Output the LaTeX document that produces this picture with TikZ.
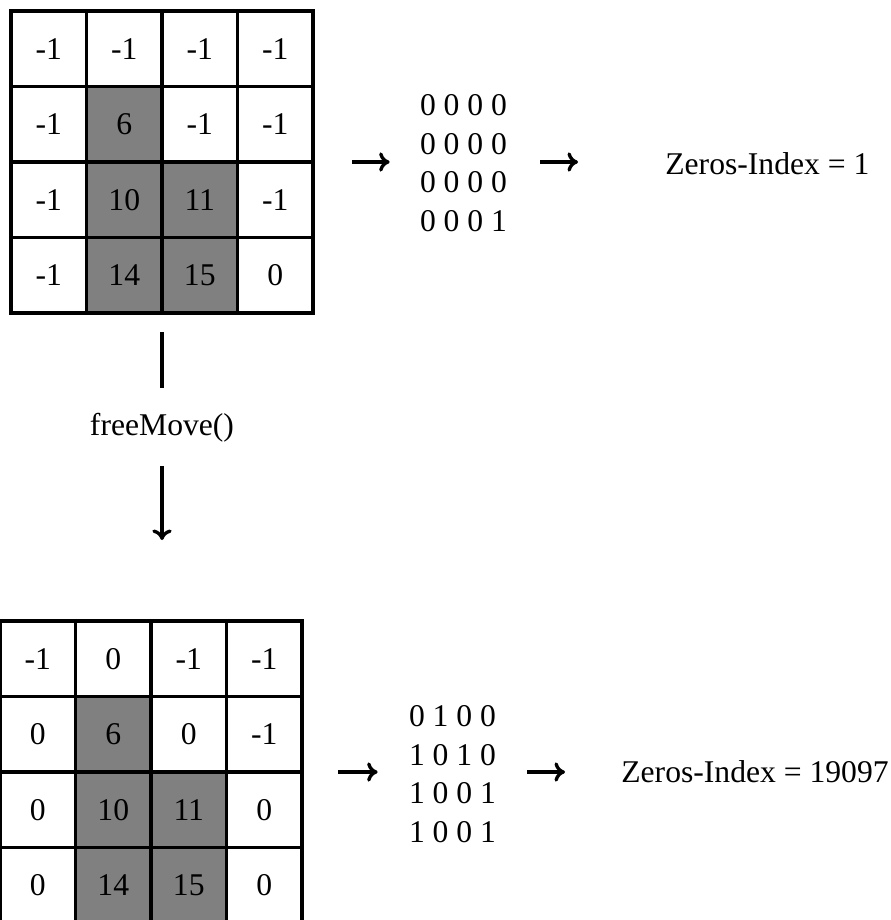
\documentclass[tikz,border=0pt]{standalone}
\usepackage{fontspec}
\setmainfont{Liberation Serif}
\usepackage{tikz}
\usetikzlibrary{arrows.meta, positioning}
\definecolor{cellgray}{RGB}{128, 128, 128}

\tikzset{
    every node/.style={font=\fontsize{18}{22}\selectfont},
    cell/.style={draw, line width=2pt, minimum size=1.51cm, inner sep=0pt, outer sep=0pt},
    bits/.style={align=center, inner sep=0pt},
    flow/.style={-{To[length=6pt, width=11pt]}, line width=1.9pt}
}

\begin{document}
\begin{tikzpicture}
    \useasboundingbox (0,0) rectangle (17.8,-18.4);
    % Grid before the move
    \foreach \v/\f [count=\i from 0] in {-1/white, -1/white, -1/white, -1/white,
            -1/white, 6/cellgray, -1/white, -1/white,
            -1/white, 10/cellgray, 11/cellgray, -1/white,
            -1/white, 14/cellgray, 15/cellgray, 0/white} {
        \pgfmathtruncatemacro{\r}{div(\i,4)+1}
        \pgfmathtruncatemacro{\c}{mod(\i,4)+1}
        \node[cell, fill=\f] (t-\r-\c)
            at ({0.975+1.51*(\c-1)}, {-0.975-1.51*(\r-1)}) {\v};
    }
    % Grid after the move
    \foreach \v/\f [count=\i from 0] in {-1/white, 0/white, -1/white, -1/white,
            0/white, 6/cellgray, 0/white, -1/white,
            0/white, 10/cellgray, 11/cellgray, 0/white,
            0/white, 14/cellgray, 15/cellgray, 0/white} {
        \pgfmathtruncatemacro{\r}{div(\i,4)+1}
        \pgfmathtruncatemacro{\c}{mod(\i,4)+1}
        \node[cell, fill=\f] (b-\r-\c)
            at ({0.755+1.51*(\c-1)}, {-13.175-1.51*(\r-1)}) {\v};
    }
    % Zero masks and their index
    \node[bits] (topbits) at (9.27,-3.26) {0 0 0 0\\0 0 0 0\\0 0 0 0\\0 0 0 1};
    \node[anchor=base west, inner sep=0pt] (topidx) at (13.3,-3.5) {Zeros-Index = 1};
    \node[bits] (botbits) at (9.05,-15.48) {0 1 0 0\\1 0 1 0\\1 0 0 1\\1 0 0 1};
    \node[anchor=base west, inner sep=0pt] (botidx) at (12.42,-15.64) {Zeros-Index = 19097};
    \coordinate (topE) at (t-2-4.south east);
    \coordinate (botE) at (b-2-4.south east);
    \draw[flow, shorten <=0.78cm, shorten >=0.6cm] (topE) -- (topE -| topbits.west);
    \draw[flow, shorten <=0.66cm, shorten >=1.74cm] (topbits.east |- topE) -- (topE -| topidx.west);
    \draw[flow, shorten <=0.72cm, shorten >=0.62cm] (botE) -- (botE -| botbits.west);
    \draw[flow, shorten <=0.62cm, shorten >=1.12cm] (botbits.east |- botE) -- (botE -| botidx.west);
    % freeMove() step
    \node[inner sep=0pt] (move) at (3.24,-8.56) {freeMove()};
    \draw[line width=1.9pt, shorten <=0.38cm, shorten >=0.5cm] (move |- t-4-2.south) -- (move.north);
    \draw[flow, shorten <=0.46cm, shorten >=1.62cm] (move.south) -- (move |- b-1-1.north);
\end{tikzpicture}
\end{document}
